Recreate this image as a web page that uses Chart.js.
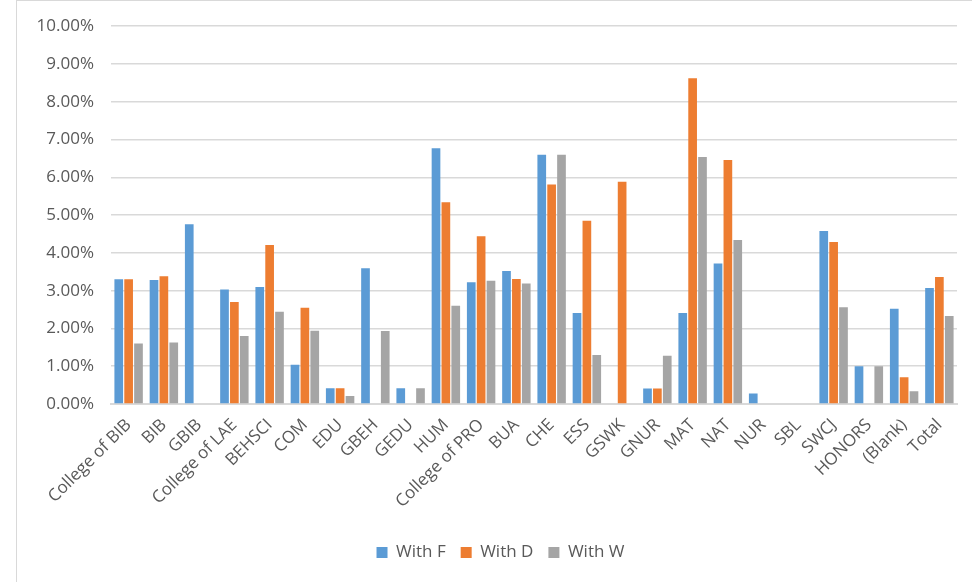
<!DOCTYPE html>
<html>
<head>
<meta charset="utf-8">
<script src="https://cdn.jsdelivr.net/npm/chart.js@4"></script>
<style>
  html, body { margin: 0; padding: 0; background: #fff; overflow: hidden; width: 972px; height: 582px; }
  #frame { position: absolute; left: 16px; top: 0px; width: 990px; height: 581px;
           border-left: 1px solid #d9d9d9; border-top: 1px solid #d9d9d9; border-bottom: 1px solid #d9d9d9; }
  #wrap { position: absolute; left: 1px; top: -2px; width: 972px; height: 580px; }
</style>
</head>
<body>
<div id="frame"><div id="wrap"><canvas id="c"></canvas></div></div>
<script>
const categories = ["College of BIB","BIB","GBIB","College of LAE","BEHSCI","COM","EDU","GBEH","GEDU","HUM","College of PRO","BUA","CHE","ESS","GSWK","GNUR","MAT","NAT","NUR","SBL","SWCJ","HONORS","(Blank)","Total"];
const withF = [3.30,3.28,4.76,3.03,3.10,1.04,0.42,3.59,0.42,6.77,3.22,3.52,6.60,2.41,0,0.41,2.41,3.72,0.28,0,4.58,1.00,2.52,3.07];
const withD = [3.30,3.38,0,2.70,4.21,2.55,0.42,0,0,5.34,4.44,3.31,5.81,4.85,5.88,0.41,8.62,6.46,0,0,4.29,0,0.71,3.36];
const withW = [1.60,1.63,0,1.80,2.44,1.94,0.21,1.93,0.42,2.60,3.26,3.19,6.60,1.30,0,1.28,6.54,4.34,0,0,2.56,1.00,0.34,2.33];
const yTicks = [0,1,2,3,4,5,6,7,8,9,10];

const FONT = "'Open Sans', sans-serif";
const TXT = '#595959';

const shiftLegend = {
  id: 'shiftLegend',
  afterLayout(chart) {
    const lg = chart.legend;
    if (lg) { lg.left += 13; lg.right += 13; }
  }
};

new Chart(document.getElementById('c'), {
  type: 'bar',
  data: {
    labels: categories,
    datasets: [
      { label: 'With F', data: withF, backgroundColor: '#5B9BD5' },
      { label: 'With D', data: withD, backgroundColor: '#ED7D31' },
      { label: 'With W', data: withW, backgroundColor: '#A5A5A5' }
    ]
  },
  plugins: [shiftLegend],
  options: {
    responsive: true,
    maintainAspectRatio: false,
    animation: false,
    datasets: { bar: { categoryPercentage: 0.84, barPercentage: 0.88 } },
    layout: { padding: { left: 0, right: 33, top: 20, bottom: 8 } },
    plugins: {
      tooltip: { enabled: false },
      legend: {
        position: 'bottom',
        labels: { font: { family: FONT, size: 17 }, color: TXT, boxWidth: 11, boxHeight: 11, padding: 15 }
      }
    },
    scales: {
      x: {
        grid: { display: false, drawTicks: false },
        border: { display: true, color: '#d9d9d9', width: 2 },
        ticks: { font: { family: FONT, size: 17 }, color: TXT, minRotation: 45, maxRotation: 45, autoSkip: false, padding: 11 },
        afterFit: s => { s.height = 125; }
      },
      y: {
        min: 0, max: 10,
        afterBuildTicks: s => { s.ticks = yTicks.map(v => ({ value: v })); },
        grid: { color: '#d9d9d9', lineWidth: 1.5, drawTicks: false },
        border: { display: false },
        ticks: { font: { family: FONT, size: 17 }, color: TXT, padding: 17, callback: v => v.toFixed(2) + '%' },
        afterFit: s => { s.width = 93; }
      }
    }
  }
});
</script>
</body>
</html>
